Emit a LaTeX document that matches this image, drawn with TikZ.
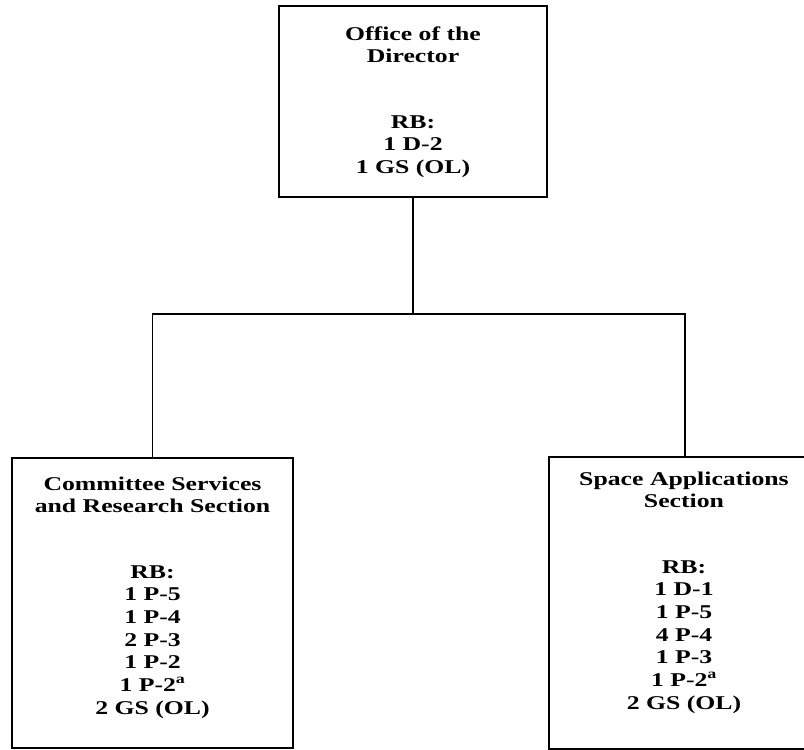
\documentclass[tikz,border=0pt]{standalone}
\usepackage{fontspec}
\setmainfont{Liberation Serif}[FakeStretch=1.32]
\begin{document}
\begin{tikzpicture}[x=1pt,y=-1pt,
  box/.style={draw, line width=1.4pt, inner sep=0pt},
  link/.style={draw, line width=1.4pt},
  lbl/.style={anchor=base, align=center, inner sep=0pt,
    font=\fontsize{19.5}{22.7}\selectfont\bfseries}]
\useasboundingbox (0,0) rectangle (804,750);
\clip (0,0) rectangle (804,750);
\node[box, minimum width=268pt, minimum height=191pt] (top) at (413,101.5) {};
\node[box, minimum width=281pt, minimum height=290pt] (csr) at (152.5,603) {};
\node[box, minimum width=272pt, minimum height=292pt] (sas) at (685,603) {};
\node[lbl] (toptitle) at (413,62.7) {Office of the\\Director};
\node[lbl] (toprb) at (413,173.4) {RB:\\1 D-2\\1 GS (OL)};
\node[lbl] (csrtitle) at (152.5,512.7) {Committee Services\\and Research Section};
\node[lbl] (csrrb) at (152.5,714.2) {RB:\\1 P-5\\1 P-4\\2 P-3\\1 P-2\\1 P-2\textsuperscript{a}\\2 GS (OL)};
\node[lbl] (sastitle) at (684,507.7) {Space Applications\\Section};
\node[lbl] (sasrb) at (684,709.2) {RB:\\1 D-1\\1 P-5\\4 P-4\\1 P-3\\1 P-2\textsuperscript{a}\\2 GS (OL)};
\coordinate (j) at (413,314);
\draw[link] (top.south) -- (j);
\draw[link] (csr.north) |- (j) -| (sas.north);
\end{tikzpicture}
\end{document}
